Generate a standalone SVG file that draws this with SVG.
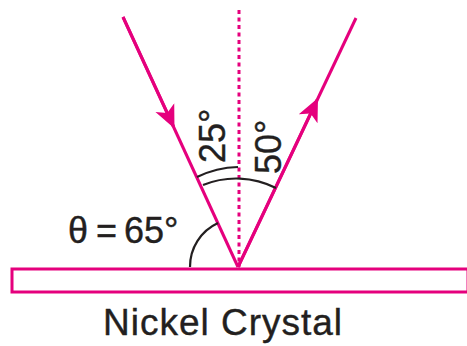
<svg xmlns="http://www.w3.org/2000/svg" width="467" height="346" viewBox="0 0 467 346">
<style>
.ray{stroke:#e5007d;stroke-width:3;fill:none}
.arc{stroke:#231f20;stroke-width:2.2;fill:none}
.t{font-family:"Liberation Sans",Arial,sans-serif;fill:#231f20;stroke:#231f20;stroke-width:0.4}
</style>
<defs>
<marker id="ah" viewBox="0 0 20 20" refX="18" refY="10" markerWidth="23" markerHeight="23" markerUnits="userSpaceOnUse" orient="auto">
<path d="M0,1 L20,10 L0,19 L5,10 Z" fill="#e5007d"/>
</marker>
</defs>
<g id="crystal">
<rect x="12" y="269" width="456" height="23" fill="#fff" stroke="#e5007d" stroke-width="3"/>
</g>
<g id="connectors">
<line id="normal" x1="239" y1="10" x2="239" y2="267" stroke="#e5007d" stroke-width="3" stroke-dasharray="4,3.5"/>
<path id="incident" class="ray" d="M123,17 L238,267"/>
<path class="ray" d="M123,17 L173.5,126.5" marker-end="url(#ah)"/>
<path id="reflected" class="ray" d="M238,267 L356,18"/>
<path class="ray" d="M238,267 L317,100" marker-end="url(#ah)"/>
</g>
<g id="angles">
<path class="arc" d="M197,177 A100,100 0 0 1 238,167"/>
<path class="arc" d="M203,185 A88,88 0 0 1 276,188"/>
<path class="arc" d="M190,267 A48,48 0 0 1 218,223"/>
</g>
<g id="labels">
<text class="t" font-size="36" transform="translate(225,163) rotate(-90)">25°</text>
<text class="t" font-size="36" transform="translate(281,174) rotate(-90)">50°</text>
<text class="t" font-size="36" y="243"><tspan x="68">θ</tspan><tspan x="96">=</tspan><tspan x="124">65°</tspan></text>
<text class="t" font-size="37" x="103" y="335" textLength="239">Nickel Crystal</text>
</g>
</svg>
